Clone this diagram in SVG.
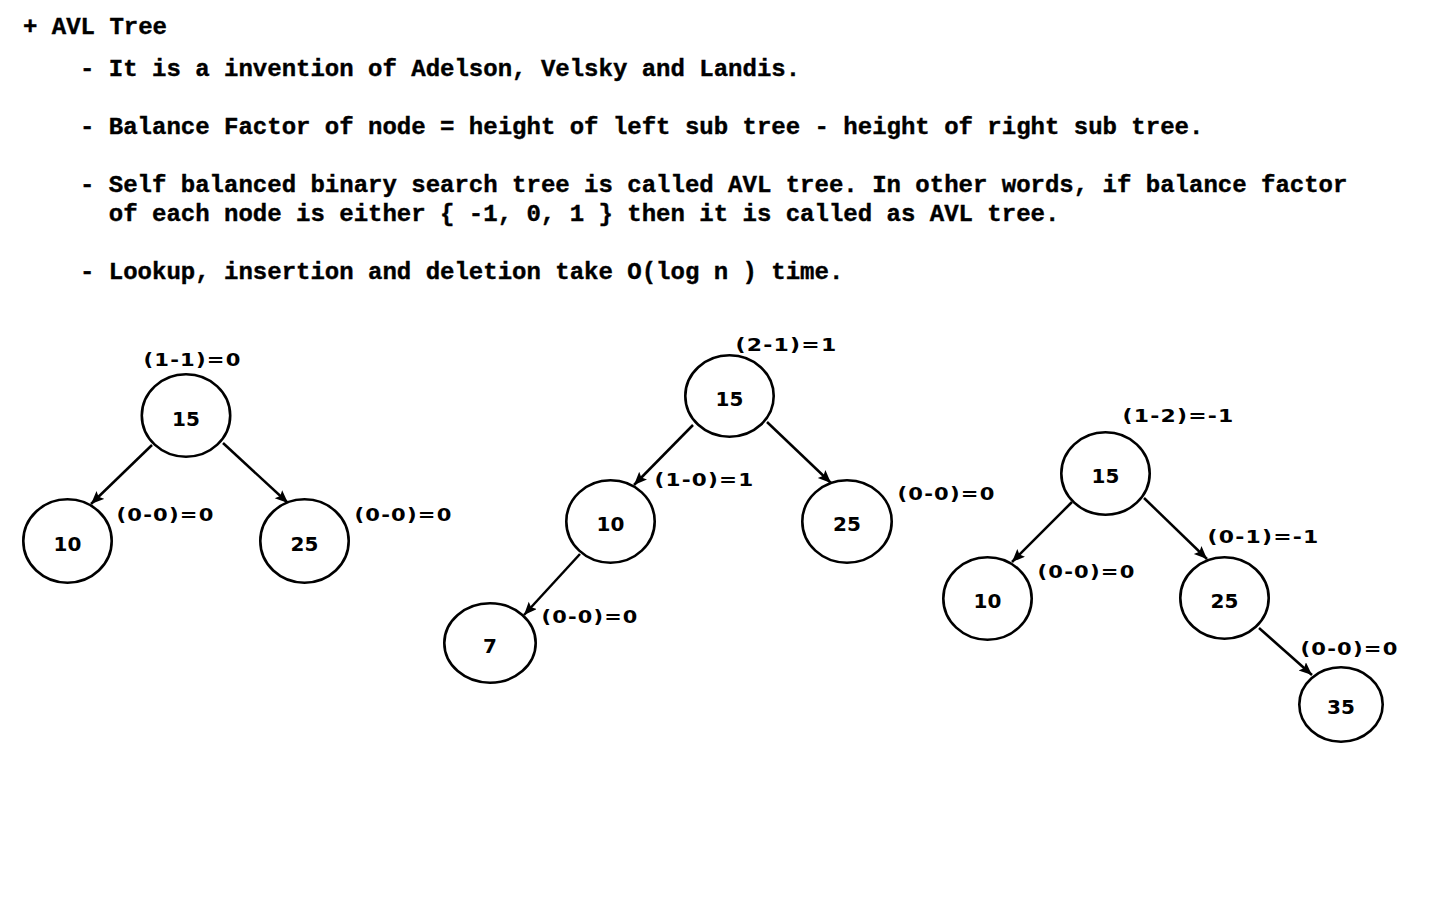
<svg xmlns="http://www.w3.org/2000/svg" width="1440" height="900" viewBox="0 0 1440 900">
<style>
.h{font-family:"Liberation Mono","Courier New",monospace;font-weight:bold;font-size:24px;fill:#000;stroke:#000;stroke-width:0.4}
.n ellipse{fill:#fff;stroke:#000;stroke-width:2.6}
.n text{font-family:"DejaVu Sans",Verdana,sans-serif;font-weight:bold;font-size:20px;text-anchor:middle;fill:#000}
.lb{font-family:"DejaVu Sans",Verdana,sans-serif;font-weight:bold;font-size:18px;letter-spacing:1px;fill:#000}
#edges line{stroke:#000;stroke-width:2.5;marker-end:url(#ah)}
</style>
<defs>
<marker id="ah" markerUnits="userSpaceOnUse" markerWidth="14" markerHeight="12" refX="13" refY="5.5" orient="auto">
<path d="M0,0 L13,5.5 L0,11 L2.5,5.5 z" fill="#000"/>
</marker>
</defs>
<rect width="1440" height="900" fill="#fff"/>
<g id="notes">
<text class="h" x="23" y="34">+ AVL Tree</text>
<text class="h" x="80" y="76">- It is a invention of Adelson, Velsky and Landis.</text>
<text class="h" x="80" y="134">- Balance Factor of node = height of left sub tree - height of right sub tree.</text>
<text class="h" x="80" y="192">- Self balanced binary search tree is called AVL tree. In other words, if balance factor</text>
<text class="h" x="108.8" y="221">of each node is either { -1, 0, 1 } then it is called as AVL tree.</text>
<text class="h" x="80" y="279">- Lookup, insertion and deletion take O(log n ) time.</text>
</g>
<g id="edges">
<line x1="152" y1="445" x2="91" y2="504"/>
<line x1="223" y1="443" x2="288" y2="503"/>
<line x1="693" y1="425" x2="634" y2="485"/>
<line x1="767" y1="422" x2="831" y2="483"/>
<line x1="580" y1="554" x2="524" y2="615"/>
<line x1="1072" y1="502" x2="1012" y2="562"/>
<line x1="1144" y1="498" x2="1207" y2="559"/>
<line x1="1259" y1="628" x2="1312" y2="675"/>
</g>
<g id="t1-15" class="n"><ellipse cx="186" cy="415.5" rx="44.2" ry="41.2"/><text x="186" y="425.5">15</text></g>
<g id="t1-10" class="n"><ellipse cx="67.5" cy="541" rx="44.2" ry="41.7"/><text x="67.5" y="551">10</text></g>
<g id="t1-25" class="n"><ellipse cx="304.5" cy="541" rx="44.2" ry="41.7"/><text x="304.5" y="551">25</text></g>
<g id="t2-15" class="n"><ellipse cx="729.5" cy="396" rx="44.2" ry="40.7"/><text x="729.5" y="405.5">15</text></g>
<g id="t2-10" class="n"><ellipse cx="610.5" cy="521.5" rx="44.2" ry="41.2"/><text x="610.5" y="531">10</text></g>
<g id="t2-25" class="n"><ellipse cx="847" cy="521.5" rx="44.7" ry="41.2"/><text x="847" y="531">25</text></g>
<g id="t2-7" class="n"><ellipse cx="490" cy="643" rx="45.7" ry="39.7"/><text x="490" y="652.5">7</text></g>
<g id="t3-15" class="n"><ellipse cx="1105.5" cy="473.5" rx="44.2" ry="41.2"/><text x="1105.5" y="483">15</text></g>
<g id="t3-10" class="n"><ellipse cx="987.5" cy="598.5" rx="44.2" ry="41.2"/><text x="987.5" y="608">10</text></g>
<g id="t3-25" class="n"><ellipse cx="1224.5" cy="598" rx="44.2" ry="40.7"/><text x="1224.5" y="607.5">25</text></g>
<g id="t3-35" class="n"><ellipse cx="1341" cy="704.5" rx="41.7" ry="37.2"/><text x="1341" y="714">35</text></g>
<g id="labels">
<text class="lb" x="143.5" y="366" textLength="98" lengthAdjust="spacingAndGlyphs">(1-1)=0</text>
<text class="lb" x="116.5" y="521" textLength="98" lengthAdjust="spacingAndGlyphs">(0-0)=0</text>
<text class="lb" x="354.5" y="521" textLength="98" lengthAdjust="spacingAndGlyphs">(0-0)=0</text>
<text class="lb" x="735.5" y="351" textLength="102" lengthAdjust="spacingAndGlyphs">(2-1)=1</text>
<text class="lb" x="654.5" y="486" textLength="100" lengthAdjust="spacingAndGlyphs">(1-0)=1</text>
<text class="lb" x="897.5" y="500" textLength="98" lengthAdjust="spacingAndGlyphs">(0-0)=0</text>
<text class="lb" x="541.5" y="623" textLength="97" lengthAdjust="spacingAndGlyphs">(0-0)=0</text>
<text class="lb" x="1122.5" y="422" textLength="112" lengthAdjust="spacingAndGlyphs">(1-2)=-1</text>
<text class="lb" x="1207.5" y="543" textLength="112" lengthAdjust="spacingAndGlyphs">(0-1)=-1</text>
<text class="lb" x="1037.5" y="578" textLength="98" lengthAdjust="spacingAndGlyphs">(0-0)=0</text>
<text class="lb" x="1300.5" y="655" textLength="98" lengthAdjust="spacingAndGlyphs">(0-0)=0</text>
</g>
</svg>
